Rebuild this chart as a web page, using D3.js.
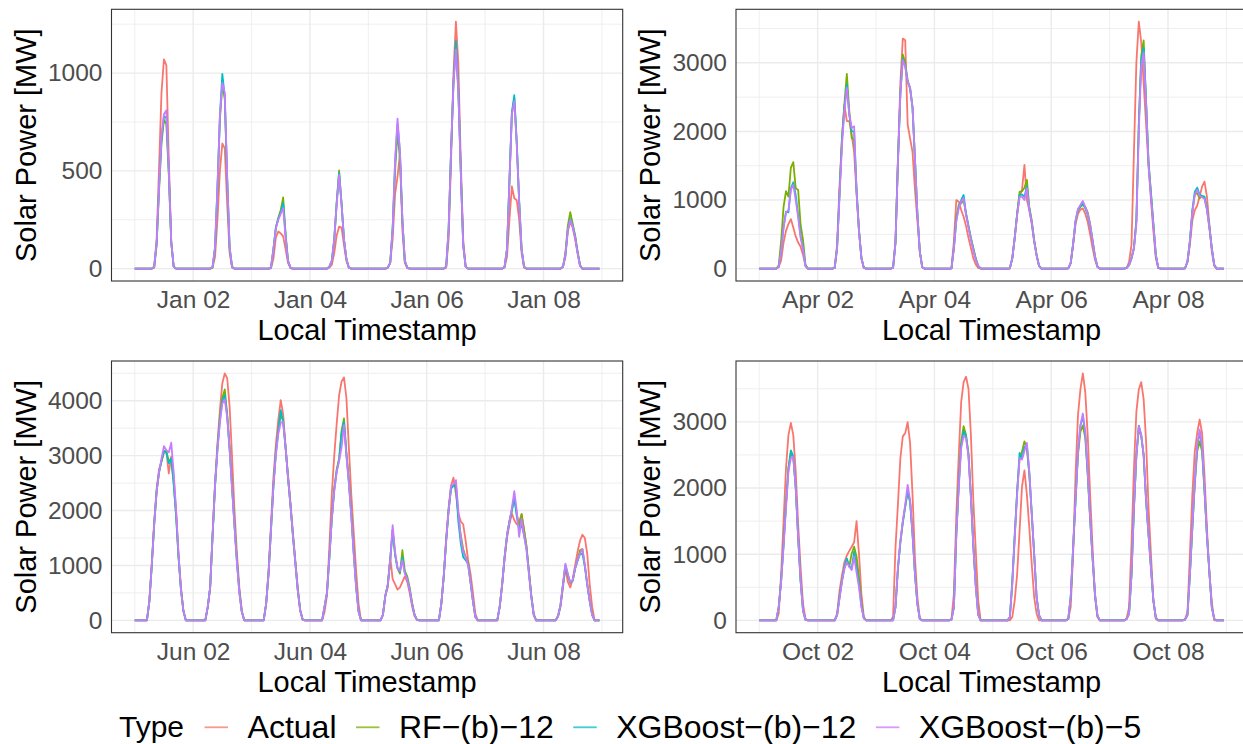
<!DOCTYPE html>
<html><head><meta charset="utf-8">
<script src="https://cdn.jsdelivr.net/npm/d3@7"></script>
<style>
body{margin:0;background:#fff;}
svg{display:block;font-family:"Liberation Sans",Arial,Helvetica,sans-serif;}
</style>
</head><body>
<svg id="chart" width="1243" height="744"></svg>
<script>
// ---------------- DATA ----------------
const seriesNames = ["Actual", "RF\u2212(b)\u221212", "XGBoost\u2212(b)\u221212", "XGBoost\u2212(b)\u22125"];
const seriesColors = ["#F8766D", "#7CAE00", "#00BFC4", "#C77CFF"];
const legendTitle = "Type";
const yTitle = "Solar Power [MW]";
const xTitle = "Local Timestamp";

// January: hourly values from 07:00 to 18:00 for each day Jan 01..Jan 08
const janStartHour = 7;
const janActual = [
  [0,10,150,520,900,1070,1040,560,140,10,0,0],
  [0,5,60,250,500,640,615,330,80,5,0,0],
  [0,2,50,160,190,180,165,100,30,2,0,0],
  [0,5,20,80,170,215,210,120,40,5,0,0],
  [0,5,30,150,380,470,590,200,30,3,0,0],
  [0,5,150,550,1000,1263,1050,550,150,10,0,0],
  [0,5,60,250,420,360,350,250,80,5,0,0],
  [0,8,60,190,240,210,150,80,15,0,0,0]
];
const janRF = [
  [0,5,120,400,640,760,740,480,130,10,0,0],
  [0,5,100,400,760,940,870,450,100,10,0,0],
  [0,5,100,210,260,300,364,180,40,5,0,0],
  [0,10,40,150,340,502,330,150,50,5,0,0],
  [0,5,30,200,500,700,560,250,40,5,0,0],
  [0,10,200,600,950,1150,920,500,120,10,0,0],
  [0,10,100,450,790,870,640,340,100,10,0,0],
  [0,10,80,220,289,230,170,90,20,0,0,0]
];
const janXGB12 = [
  [0,10,130,420,660,780,770,500,140,10,0,0],
  [0,10,110,420,780,996,880,460,110,10,0,0],
  [0,5,100,210,255,290,335,170,40,5,0,0],
  [0,10,40,150,335,490,335,150,50,5,0,0],
  [0,5,30,210,540,740,600,250,40,5,0,0],
  [0,10,200,600,950,1164,910,500,120,10,0,0],
  [0,10,100,450,800,887,650,350,100,10,0,0],
  [0,10,70,200,255,220,165,85,15,0,0,0]
];
const janXGB5 = [
  [0,10,130,420,680,790,810,500,140,10,0,0],
  [0,10,110,420,780,950,900,470,110,10,0,0],
  [0,5,100,205,250,280,310,160,40,5,0,0],
  [0,10,40,150,330,480,330,150,50,5,0,0],
  [0,5,30,200,550,767,600,250,40,5,0,0],
  [0,10,200,600,950,1120,900,500,120,10,0,0],
  [0,10,100,440,790,856,640,340,100,10,0,0],
  [0,10,70,200,250,215,160,80,15,0,0,0]
];

// April: hourly values from 06:00 to 20:00
const aprStartHour = 6;
const aprActual = [
  [0,0,20,120,380,550,650,722,600,470,380,320,200,40,0],
  [0,10,350,1200,1900,2390,2150,2150,1950,1700,1100,550,150,10,0],
  [0,10,400,1600,2700,3353,3328,2100,1900,1700,1150,700,250,20,0],
  [0,5,400,1000,976,854,756,620,450,300,150,60,10,0,0],
  [0,5,150,450,800,1050,1150,1513,1000,850,650,400,200,40,0],
  [0,5,80,350,650,800,860,878,800,680,500,300,130,20,0],
  [0,10,100,350,1700,3000,3600,3300,2700,2100,1500,1000,550,150,10],
  [0,5,100,350,700,850,920,1050,1196,1269,1050,650,250,40,0]
];
const aprRF = [
  [0,0,50,400,900,1130,1050,1474,1552,1171,1147,640,420,60,0],
  [0,10,300,1100,1900,2400,2840,2300,1900,1880,1150,550,160,10,0],
  [0,10,380,1550,2550,3123,3000,2750,2620,2350,1600,800,250,20,0],
  [0,5,300,750,927,950,1000,800,620,450,300,150,40,5,0],
  [0,5,150,450,800,1120,1130,1180,1293,900,700,420,200,40,0],
  [0,5,80,350,680,850,900,930,900,820,650,420,180,30,0],
  [0,10,50,150,300,700,2100,3100,3328,2400,1550,1100,650,200,10],
  [0,5,100,400,830,1080,1100,1025,1050,1030,870,600,300,50,0]
];
const aprXGB12 = [
  [0,0,30,250,600,830,820,1171,1259,1070,780,480,300,40,0],
  [0,10,300,1100,1850,2350,2684,2250,2000,2000,1150,550,150,10,0],
  [0,10,380,1550,2550,3060,2950,2720,2640,2350,1600,800,250,20,0],
  [0,5,300,700,900,1000,1074,800,620,440,280,140,40,5,0],
  [0,5,150,450,800,1080,1080,1050,1200,880,680,400,190,40,0],
  [0,5,80,360,700,860,910,950,880,780,620,400,170,30,0],
  [0,10,50,150,300,700,2100,3050,3220,2450,1550,1100,650,200,10],
  [0,5,100,400,850,1120,1181,1080,1060,1049,880,620,300,60,0]
];
const aprXGB5 = [
  [0,0,30,250,600,820,850,1150,1220,1000,750,450,280,40,0],
  [0,10,300,1050,1800,2300,2635,2250,2050,2074,1100,550,150,10,0],
  [0,10,380,1550,2550,3040,2950,2730,2635,2350,1600,800,250,20,0],
  [0,5,300,700,880,980,1025,780,600,430,270,130,40,5,0],
  [0,5,150,450,780,1050,1050,1000,1171,860,680,400,190,40,0],
  [0,5,80,360,700,870,930,986,900,800,640,410,170,30,0],
  [0,10,50,150,300,650,2000,2950,3150,2400,1500,1050,620,200,10],
  [0,5,100,400,820,1080,1147,1060,1040,1020,860,600,290,50,0]
];

// June: hourly values from 05:00 to 21:00
const junStartHour = 5;
const junActual = [
  [0,350,1030,1800,2400,2750,2900,3050,3080,2675,2980,2600,2000,1200,600,180,0],
  [0,240,600,1580,2490,3220,3830,4320,4499,4410,3890,2980,2000,1220,600,180,0],
  [0,300,900,1750,2600,3200,3650,4013,3750,3150,2650,2150,1600,1100,600,200,20],
  [0,150,450,1350,2300,3000,3580,4100,4350,4426,4050,3150,2300,1600,900,300,0],
  [0,100,450,600,1150,750,660,560,600,700,800,700,500,250,80,10,0],
  [0,300,800,1500,2050,2450,2600,2300,1950,1800,1750,1450,1100,850,500,120,0],
  [0,250,650,1100,1500,1750,1946,1824,1750,1800,1933,1650,1350,900,450,120,0],
  [0,80,250,600,942,700,600,750,1000,1250,1450,1560,1500,1200,650,250,0]
];
const junRF = [
  [0,340,1000,1750,2350,2700,2900,3080,3080,2900,2950,2500,1900,1150,560,170,0],
  [0,240,600,1550,2450,3150,3700,4050,4207,3750,3150,2450,1750,1080,520,160,0],
  [0,300,850,1650,2450,3050,3450,3750,3650,3150,2600,2100,1550,1050,550,180,15],
  [0,250,500,1150,1850,2400,2750,2950,3450,3678,3050,2550,1950,1250,620,160,0],
  [0,100,450,650,1100,1650,1200,950,850,1277,900,800,600,320,110,10,0],
  [0,300,800,1450,2000,2420,2450,2480,1900,1550,1300,1150,1050,700,350,60,0],
  [0,250,650,1150,1550,1800,2000,2250,1950,1700,1933,1650,1350,900,440,100,0],
  [0,80,280,650,1000,820,680,720,950,1100,1277,1300,1000,650,350,100,0]
];
const junXGB12 = [
  [0,340,1000,1750,2350,2700,2900,3090,3050,2860,2950,2500,1900,1150,560,170,0],
  [0,240,600,1550,2450,3120,3650,4000,4104,3720,3120,2420,1730,1070,520,160,0],
  [0,300,850,1650,2450,3050,3450,3830,3600,3150,2600,2100,1550,1050,550,180,15],
  [0,250,500,1150,1850,2380,2720,2920,3400,3620,3020,2520,1920,1230,610,160,0],
  [0,100,450,650,1100,1650,1200,950,880,1150,870,760,560,300,100,10,0],
  [0,300,800,1450,2000,2400,2450,2450,1800,1400,1150,1094,1030,700,350,60,0],
  [0,250,650,1150,1550,1800,2000,2219,1900,1650,1750,1550,1300,870,430,95,0],
  [0,80,280,650,1000,830,690,720,940,1080,1200,1216,980,640,340,100,0]
];
const junXGB5 = [
  [0,340,1000,1750,2350,2700,2950,3174,3100,3060,3235,2700,2000,1200,560,170,0],
  [0,240,600,1550,2450,3100,3600,3950,4025,3700,3100,2400,1700,1050,500,150,0],
  [0,300,850,1650,2450,3000,3400,3600,3620,3150,2600,2100,1550,1050,550,180,15],
  [0,250,500,1150,1850,2350,2700,2900,3150,3557,3000,2500,1900,1200,600,150,0],
  [0,100,450,650,1100,1733,1250,950,900,1094,850,750,550,300,100,10,0],
  [0,300,800,1450,2000,2450,2480,2554,2000,1500,1250,1150,1000,700,350,60,0],
  [0,250,650,1150,1550,1800,2050,2353,2000,1520,1850,1550,1300,850,420,90,0],
  [0,80,280,650,1034,850,690,730,950,1100,1216,1300,1000,650,350,100,0]
];

// October: hourly values from 07:00 to 20:00
const octStartHour = 7;
const octActual = [
  [0,100,700,1500,2300,2800,2984,2800,2250,1450,800,250,30,0],
  [0,100,450,680,880,980,1050,1113,1180,1500,1000,400,50,0],
  [50,1100,1750,2450,2780,2830,2994,2681,1900,950,350,30,0,0],
  [20,400,1600,2500,3300,3600,3682,3500,2800,1800,1050,300,0,0],
  [0,50,300,700,1350,2023,2266,1900,1400,850,350,100,0,0],
  [20,200,1000,2200,3100,3490,3733,3450,2800,1900,1100,350,50,0],
  [30,200,1150,2300,3150,3490,3601,3338,2700,1700,1000,300,20,0],
  [20,120,1000,1900,2550,2832,3035,2832,2200,1400,700,280,0,0]
];
const octRF = [
  [0,200,600,1150,1750,2300,2530,2450,2000,1250,600,150,10,0],
  [0,80,350,600,800,910,810,1011,1113,960,650,250,30,0],
  [0,200,780,1180,1480,1720,1947,1800,1320,710,250,20,0,0],
  [10,200,1300,2050,2700,2934,2800,2520,1880,1130,530,90,0,0],
  [40,550,1250,1950,2450,2550,2706,2600,2200,1600,1000,350,80,0],
  [20,340,1080,1800,2500,2850,2944,2760,2200,1520,930,380,70,0],
  [20,100,680,1680,2470,2900,2780,2480,1800,1290,790,290,40,0],
  [10,80,680,1380,2050,2550,2706,2550,1950,1270,730,200,20,0]
];
const octXGB12 = [
  [0,200,600,1150,1750,2300,2569,2480,2000,1250,600,150,10,0],
  [0,80,350,600,800,936,820,784,1037,800,550,220,30,0],
  [0,200,780,1180,1480,1720,1960,1780,1300,700,240,20,0,0],
  [10,200,1300,2050,2650,2858,2780,2500,1870,1120,520,85,0,0],
  [50,600,1300,1950,2529,2450,2620,2650,2230,1620,1000,350,80,0],
  [20,350,1100,1820,2550,2940,3085,2820,2230,1540,940,390,70,0],
  [20,100,700,1700,2500,2944,2800,2500,1821,1300,800,300,40,0],
  [10,80,700,1400,2080,2620,2850,2620,1980,1280,740,200,20,0]
];
const octXGB5 = [
  [0,200,580,1120,1700,2250,2450,2478,2000,1250,600,150,10,0],
  [0,80,330,580,780,880,810,760,961,720,500,200,30,0],
  [0,200,800,1200,1500,1750,2048,1820,1315,708,250,20,0,0],
  [10,200,1300,2000,2600,2792,2750,2478,1850,1100,500,80,0,0],
  [40,550,1250,1900,2450,2430,2560,2681,2250,1620,1000,350,80,0],
  [20,350,1100,1820,2550,2950,3126,2850,2250,1550,950,400,70,0],
  [20,100,700,1700,2500,2930,2800,2500,1821,1300,800,300,40,0],
  [10,80,700,1416,2100,2650,2883,2650,2000,1300,750,200,20,0]
];

// Axis ticks
const janYTicks = [0, 500, 1000];
const janYMinor = [250, 750, 1250];
const aprYTicks = [0, 1000, 2000, 3000];
const aprYMinor = [500, 1500, 2500, 3500];
const junYTicks = [0, 1000, 2000, 3000, 4000];
const junYMinor = [500, 1500, 2500, 3500, 4500];
const octYTicks = [0, 1000, 2000, 3000];
const octYMinor = [500, 1500, 2500, 3500];
const xTickDays = [2, 4, 6, 8];
const xMinorDays = [1, 3, 5, 7, 9];
const year = 2021;
const numDays = 8;

// ---------------- LAYOUT ----------------
const PW = 511.2, PH = 271.7;
const panelBoxes = [
  {l: 111.5, t: 9.3}, {l: 736, t: 9.3},
  {l: 111.5, t: 361}, {l: 736, t: 361}
];
const panels = [
  {month: 0, start: janStartHour, series: [janActual, janRF, janXGB12, janXGB5], yt: janYTicks, ym: janYMinor},
  {month: 3, start: aprStartHour, series: [aprActual, aprRF, aprXGB12, aprXGB5], yt: aprYTicks, ym: aprYMinor},
  {month: 5, start: junStartHour, series: [junActual, junRF, junXGB12, junXGB5], yt: junYTicks, ym: junYMinor},
  {month: 9, start: octStartHour, series: [octActual, octRF, octXGB12, octXGB5], yt: octYTicks, ym: octYMinor}
];

const svg = d3.select("#chart");
svg.append("rect").attr("width", 1243).attr("height", 744).attr("fill", "#fff");

const fmt = d3.utcFormat("%b %d");

panels.forEach((p, i) => {
  const box = panelBoxes[i];
  // expand daylight arrays into hourly series (night hours are zero)
  const hourly = p.series.map(days => {
    const pts = [];
    for (let d = 0; d < numDays; d++) {
      for (let h = 0; h < 24; h++) {
        const k = h - p.start;
        const v = (k >= 0 && k < days[d].length) ? days[d][k] : 0;
        pts.push({t: new Date(Date.UTC(year, p.month, d + 1, h)), v: v});
      }
    }
    return pts;
  });
  const t0 = Date.UTC(year, p.month, 1, 0), t1 = Date.UTC(year, p.month, numDays, 23);
  const xpad = 0.05 * (t1 - t0);
  const x = d3.scaleUtc().domain([new Date(t0 - xpad), new Date(t1 + xpad)]).range([box.l, box.l + PW]);
  const vmax = d3.max(hourly, s => d3.max(s, d => d.v));
  const y = d3.scaleLinear().domain([-0.05 * vmax, 1.05 * vmax]).range([box.t + PH, box.t]);

  const g = svg.append("g");
  const clipId = "clip" + i;
  g.append("clipPath").attr("id", clipId).append("rect")
    .attr("x", box.l).attr("y", box.t).attr("width", PW).attr("height", PH);
  const grid = g.append("g").attr("clip-path", `url(#${clipId})`);
  // minor gridlines
  grid.selectAll(".hmin").data(p.ym).join("line")
    .attr("x1", box.l).attr("x2", box.l + PW)
    .attr("y1", d => y(d)).attr("y2", d => y(d))
    .attr("stroke", "#EBEBEB").attr("stroke-width", 0.8);
  grid.selectAll(".vmin").data(xMinorDays).join("line")
    .attr("x1", d => x(new Date(Date.UTC(year, p.month, d)))).attr("x2", d => x(new Date(Date.UTC(year, p.month, d))))
    .attr("y1", box.t).attr("y2", box.t + PH)
    .attr("stroke", "#EBEBEB").attr("stroke-width", 0.8);
  // major gridlines
  grid.selectAll(".hmaj").data(p.yt).join("line")
    .attr("x1", box.l).attr("x2", box.l + PW)
    .attr("y1", d => y(d)).attr("y2", d => y(d))
    .attr("stroke", "#EBEBEB").attr("stroke-width", 1.4);
  grid.selectAll(".vmaj").data(xTickDays).join("line")
    .attr("x1", d => x(new Date(Date.UTC(year, p.month, d)))).attr("x2", d => x(new Date(Date.UTC(year, p.month, d))))
    .attr("y1", box.t).attr("y2", box.t + PH)
    .attr("stroke", "#EBEBEB").attr("stroke-width", 1.4);

  // lines
  const line = d3.line().x(d => x(d.t)).y(d => y(d.v));
  const lg = g.append("g").attr("clip-path", `url(#${clipId})`);
  hourly.forEach((s, si) => {
    lg.append("path").datum(s).attr("d", line)
      .attr("fill", "none").attr("stroke", seriesColors[si])
      .attr("stroke-width", 1.8).attr("stroke-linejoin", "round");
  });

  // border
  g.append("rect").attr("x", box.l).attr("y", box.t).attr("width", PW).attr("height", PH)
    .attr("fill", "none").attr("stroke", "#333333").attr("stroke-width", 1.1);

  // axes
  const ya = g.append("g").attr("transform", `translate(${box.l},0)`)
    .call(d3.axisLeft(y).tickValues(p.yt).tickSize(0).tickPadding(9).tickFormat(d3.format("d")));
  ya.select(".domain").remove();
  ya.selectAll("text").attr("fill", "#4D4D4D").style("font-size", "24.5px")
    .style("font-family", '"Liberation Sans", Arial, sans-serif');

  const xa = g.append("g").attr("transform", `translate(0,${box.t + PH})`)
    .call(d3.axisBottom(x).tickValues(xTickDays.map(d => new Date(Date.UTC(year, p.month, d)))).tickSize(0).tickPadding(10).tickFormat(fmt));
  xa.select(".domain").remove();
  xa.selectAll("text").attr("fill", "#4D4D4D").style("font-size", "24.5px")
    .style("font-family", '"Liberation Sans", Arial, sans-serif');

  // titles
  g.append("text").attr("x", box.l + PW / 2).attr("y", box.t + PH + 59)
    .attr("text-anchor", "middle").style("font-size", "29px").attr("fill", "#000").text(xTitle);
  g.append("text")
    .attr("transform", `translate(${box.l - 76},${box.t + PH / 2}) rotate(-90)`)
    .attr("text-anchor", "middle").style("font-size", "29px").attr("fill", "#000").text(yTitle);
});

// ---------------- LEGEND ----------------
const leg = svg.append("g");
const legBase = 738;
let cx = 119;
const tt = leg.append("text").attr("x", cx).attr("y", legBase - 1).style("font-size", "30px").attr("fill", "#000").text(legendTitle);
cx += tt.node().getComputedTextLength() + 20.5;
seriesNames.forEach((n, i) => {
  leg.append("line").attr("x1", cx).attr("x2", cx + 23.5).attr("y1", 727.3).attr("y2", 727.3)
    .attr("stroke", seriesColors[i]).attr("stroke-width", 1.8).attr("opacity", 0.75);
  cx += 23.5 + 19.5;
  const t = leg.append("text").attr("x", cx).attr("y", legBase).style("font-size", "32px").attr("fill", "#000").text(n);
  cx += t.node().getComputedTextLength() + 19.5;
});
</script>
</body></html>
